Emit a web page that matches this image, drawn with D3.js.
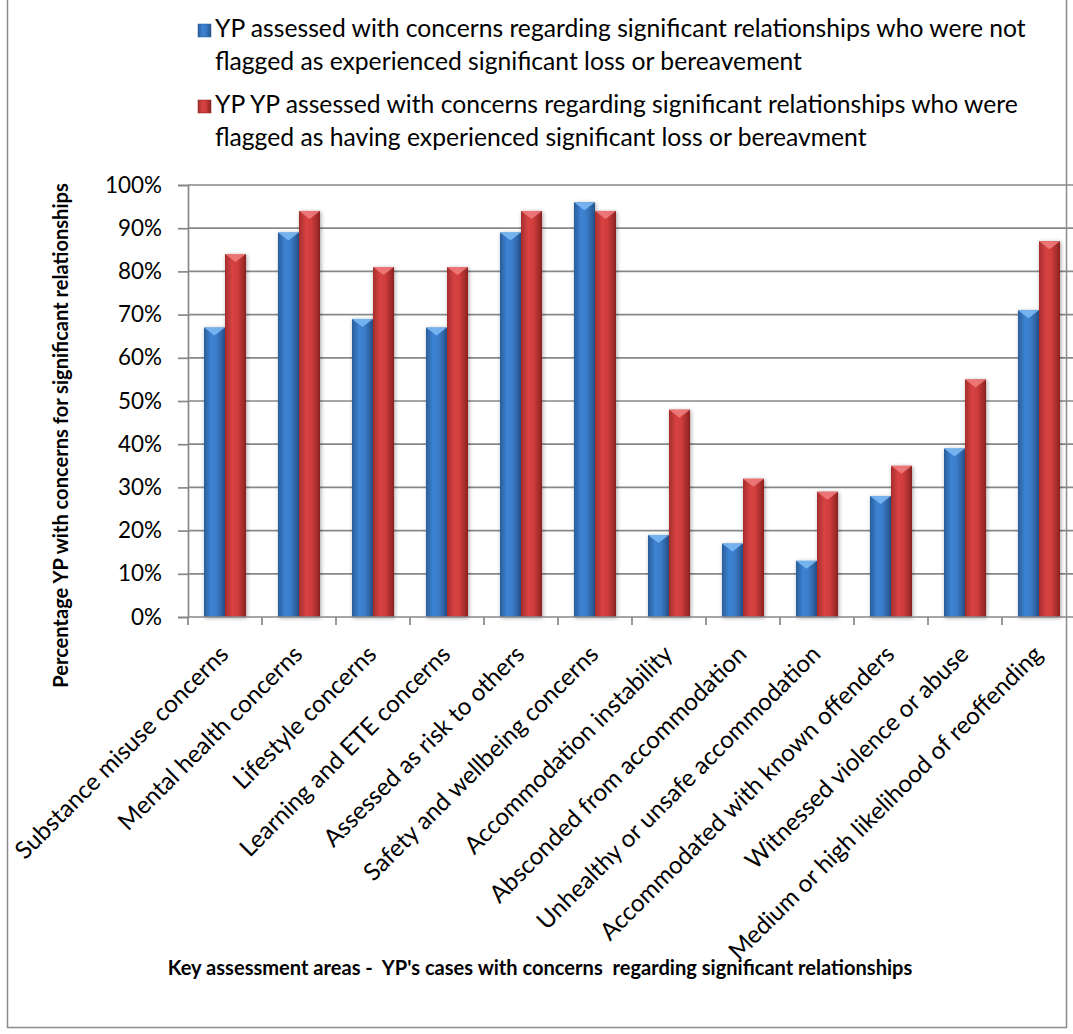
<!DOCTYPE html>
<html>
<head>
<meta charset="utf-8">
<script src="https://cdn.jsdelivr.net/npm/d3@7"></script>
<style>
  body { margin: 0; background: #fff; }
  svg { display: block; }
  text { font-family: Lato, "Open Sans", sans-serif; fill: #000; }
</style>
</head>
<body>
<div id="chart"></div>
<script>
// Categories on the x axis
var categories = [
  "Substance misuse concerns",
  "Mental health concerns",
  "Lifestyle concerns",
  "Learning and ETE concerns",
  "Assessed as risk to others",
  "Safety and wellbeing concerns",
  "Accommodation instability",
  "Absconded from accommodation",
  "Unhealthy or unsafe accommodation",
  "Accommodated with known offenders",
  "Witnessed violence or abuse",
  "Medium or high likelihood of reoffending"
];

// Series names (legend text, two lines each)
var seriesNames = [
  ["YP assessed with concerns regarding significant relationships who were not",
   "flagged as experienced significant loss or bereavement"],
  ["YP YP assessed with concerns regarding significant relationships who were",
   "flagged as having experienced significant loss or bereavment"]
];

// Values in percent
var notFlaggedValues = [67, 89, 69, 67, 89, 96, 19, 17, 13, 28, 39, 71];
var flaggedValues = [84, 94, 81, 81, 94, 94, 48, 32, 29, 35, 55, 87];

var yTicks = [0, 10, 20, 30, 40, 50, 60, 70, 80, 90, 100];

var yTitle = "Percentage YP with concerns for significant relationships";
var xTitle = "Key assessment areas -  YP's cases with concerns  regarding significant relationships";

// Dimensions
var width = 1073;
var height = 1034;
var plotLeft = 188;
var plotRight = 1076;
var plotTop = 185;
var plotBottom = 617;

var svg = d3
  .select("#chart")
  .append("svg")
  .attr("width", width)
  .attr("height", height);

// Scale a text's font size so that it is as wide as the original (Calibri is not installed)
function fitFont(node, target) {
  var size = parseFloat(window.getComputedStyle(node).fontSize);
  var len = node.getComputedTextLength();
  return (size * target) / len;
}

// Gradients for the bars (cylinder-like shading)
var defs = svg.append("defs");
var palettes = [
  { id: "gradBlue", stops: ["#2b5c9a", "#3d84d4", "#3a7cc8", "#28538c"], cap: "#7ab8f2" },
  { id: "gradRed", stops: ["#a52e2e", "#d84242", "#cf3c3c", "#8a2222"], cap: "#ee7a7a" }
];
palettes.forEach(function (p) {
  var g = defs
    .append("linearGradient")
    .attr("id", p.id)
    .attr("x1", "0%")
    .attr("x2", "100%")
    .attr("y1", "0%")
    .attr("y2", "0%");
  [0, 0.35, 0.6, 1].forEach(function (o, i) {
    g.append("stop").attr("offset", o * 100 + "%").attr("stop-color", p.stops[i]);
  });
});
var shadow = defs.append("filter").attr("id", "shadow").attr("x", "-30%").attr("width", "160%");
shadow.append("feGaussianBlur").attr("in", "SourceAlpha").attr("stdDeviation", 2);
shadow.append("feOffset").attr("dx", 1).attr("dy", 1).attr("result", "blur");
shadow.append("feComponentTransfer").append("feFuncA").attr("type", "linear").attr("slope", 0.35);
var merge = shadow.append("feMerge");
merge.append("feMergeNode");
merge.append("feMergeNode").attr("in", "SourceGraphic");

// Outer border
svg
  .append("rect")
  .attr("x", 7.5)
  .attr("y", -2)
  .attr("width", 1059)
  .attr("height", 1029.5)
  .attr("fill", "none")
  .attr("stroke", "#8c8c8c")
  .attr("stroke-width", 1.5);

// Scales
var x = d3.scaleBand().domain(categories).range([plotLeft, plotRight]).padding(0);
var xSeries = d3
  .scaleBand()
  .domain([0, 1])
  .range([0, x.bandwidth()])
  .paddingInner(0)
  .paddingOuter(0.76);
var y = d3.scaleLinear().domain([0, 100]).range([plotBottom, plotTop]);

// Horizontal gridlines
svg
  .append("g")
  .selectAll("line")
  .data(yTicks.slice(1))
  .enter()
  .append("line")
  .attr("x1", plotLeft)
  .attr("x2", plotRight)
  .attr("y1", function (d) { return y(d); })
  .attr("y2", function (d) { return y(d); })
  .attr("stroke", "#888")
  .attr("stroke-width", 1.7);

// Y axis
var yAxis = svg
  .append("g")
  .attr("transform", "translate(" + plotLeft + ",0)")
  .call(
    d3.axisLeft(y)
      .tickValues(yTicks)
      .tickSize(10)
      .tickPadding(16)
      .tickFormat(function (d) { return d + "%"; })
  );
yAxis.selectAll("line").attr("stroke", "#888").attr("stroke-width", 1.7);
yAxis.select(".domain").attr("stroke", "#888").attr("stroke-width", 1.7);
var yLabels = yAxis.selectAll("text")
  .style("font-size", "22px")
  .style("font-family", "Lato, sans-serif")
  .attr("fill", "#000");
var tickSize = fitFont(yLabels.filter(function (d) { return d === 100; }).node(), 57);
yLabels.style("font-size", tickSize + "px");

// Bars
var seriesValues = [notFlaggedValues, flaggedValues];
seriesValues.forEach(function (vals, s) {
  var grp = svg.append("g").attr("filter", "url(#shadow)");
  var bars = grp
    .selectAll("g")
    .data(vals)
    .enter()
    .append("g");
  bars
    .append("rect")
    .attr("x", function (d, i) { return x(categories[i]) + xSeries(s); })
    .attr("y", function (d) { return y(d); })
    .attr("width", xSeries.bandwidth())
    .attr("height", function (d) { return y(0) - y(d); })
    .attr("fill", "url(#" + palettes[s].id + ")");
  // Bevelled top
  bars
    .append("path")
    .attr("d", function (d, i) {
      var x0 = x(categories[i]) + xSeries(s);
      var w = xSeries.bandwidth();
      var t = y(d);
      return "M" + x0 + "," + t + "L" + (x0 + w) + "," + t + "L" + (x0 + w / 2) + "," + (t + 8) + "Z";
    })
    .attr("fill", palettes[s].cap)
    .attr("opacity", 0.9);
});

// X axis with ticks between categories
svg
  .append("line")
  .attr("x1", plotLeft)
  .attr("x2", plotRight)
  .attr("y1", plotBottom)
  .attr("y2", plotBottom)
  .attr("stroke", "#888")
  .attr("stroke-width", 1.7);
svg
  .append("g")
  .selectAll("line")
  .data(categories)
  .enter()
  .append("line")
  .attr("x1", function (d) { return x(d); })
  .attr("x2", function (d) { return x(d); })
  .attr("y1", plotBottom)
  .attr("y2", plotBottom + 8)
  .attr("stroke", "#888")
  .attr("stroke-width", 1.7);

// Rotated category labels
var catLabels = svg
  .append("g")
  .selectAll("text")
  .data(categories)
  .enter()
  .append("text")
  .attr("text-anchor", "end")
  .style("font-size", "22px")
  .text(function (d) { return d; });
var catSize = fitFont(catLabels.node(), 290);
catLabels
  .style("font-size", catSize + "px")
  .attr("transform", function (d) {
    return "translate(" + (x(d) + x.bandwidth() / 2 + 5) + "," + (plotBottom + 30 + catSize * 0.36) + ") rotate(-45)";
  });

// Axis titles
var yTitleText = svg
  .append("text")
  .attr("transform", "translate(68," + (183 + 688) / 2 + ") rotate(-90)")
  .attr("text-anchor", "middle")
  .style("font-size", "20px")
  .style("font-weight", "bold")
  .text(yTitle);
var titleSize = fitFont(yTitleText.node(), 505);
yTitleText.style("font-size", titleSize + "px");

svg
  .append("text")
  .attr("x", 540)
  .attr("y", 975)
  .attr("text-anchor", "middle")
  .style("font-size", titleSize + "px")
  .style("font-weight", "bold")
  .style("white-space", "pre")
  .text(xTitle);

// Legend
var legend = svg
  .selectAll(".legend")
  .data(seriesNames)
  .enter()
  .append("g")
  .attr("class", "legend")
  .attr("transform", function (d, i) { return "translate(198," + (i * 76) + ")"; });

legend
  .append("rect")
  .attr("x", 0)
  .attr("y", 24)
  .attr("width", 13)
  .attr("height", 13)
  .attr("fill", function (d, i) { return "url(#" + palettes[i].id + ")"; })
  .attr("stroke", function (d, i) { return i === 0 ? "#2b5c9a" : "#8a2222"; })
  .attr("stroke-width", 0.5);

var legendText = legend
  .selectAll("text")
  .data(function (d) { return d; })
  .enter()
  .append("text")
  .attr("x", 17)
  .attr("y", function (d, j) { return 37 + j * 33; })
  .style("font-size", "23px")
  .text(function (d) { return d; });
var legendSize = fitFont(legendText.node(), 811);
legendText.style("font-size", legendSize + "px");
</script>
</body>
</html>
